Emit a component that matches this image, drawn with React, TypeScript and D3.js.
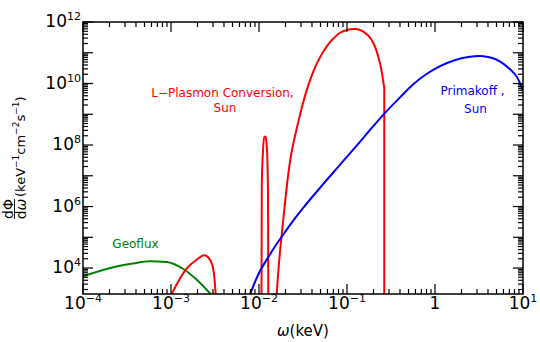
import React from 'react';
import * as d3 from 'd3';

// ---- data (energy in keV, flux in keV^-1 cm^-2 s^-1) ----
const geofluxEnergy = [1.0e-4, 2.4e-4, 3.7e-4, 5.75e-4, 8.9e-4, 1.38e-3, 1.95e-3, 2.9e-3];
const geofluxFlux = [5.4e3, 1.12e4, 1.4e4, 1.66e4, 1.58e4, 9.3e3, 4.2e3, 1.3e3];

const plasmonLowEnergy = [1.0e-3, 1.48e-3, 1.95e-3, 2.4e-3, 2.88e-3, 3.1e-3, 3.24e-3];
const plasmonLowFlux = [1.3e3, 9.0e3, 1.86e4, 2.6e4, 1.5e4, 5.4e3, 1.1e3];

const plasmonSpikeEnergy = [1.067e-2, 1.076e-2, 1.109e-2, 1.148e-2, 1.189e-2, 1.23e-2, 1.265e-2, 1.276e-2];
const plasmonSpikeFlux = [1.1e3, 5.0e6, 6.0e7, 1.8e8, 1.9e8, 8.0e7, 3.0e6, 1.1e3];

const plasmonHumpEnergy = [1.585e-2, 1.70e-2, 1.905e-2, 2.15e-2, 2.34e-2, 2.57e-2, 3.16e-2, 3.63e-2, 4.14e-2, 5.01e-2, 5.89e-2, 7.08e-2, 8.32e-2, 0.1, 0.12, 0.141, 0.174, 0.2, 0.237, 0.265];
const plasmonHumpFlux = [1.26e3, 1.86e4, 4.8e5, 1.12e7, 5.6e7, 2.0e8, 2.29e9, 8.7e9, 2.45e10, 7.76e10, 1.62e11, 3.0e11, 4.47e11, 5.5e11, 5.9e11, 5.5e11, 3.63e11, 2.04e11, 4.57e10, 7.08e9];

const primakoffEnergy = [7.94e-3, 1.0e-2, 1.26e-2, 1.58e-2, 2.0e-2, 2.51e-2, 3.16e-2, 5.01e-2, 7.94e-2, 0.126, 0.2, 0.282, 0.398, 0.562, 0.794, 1.0, 1.35, 2.0, 2.82, 3.55, 4.47, 5.5, 6.9, 8.5, 10];
const primakoffFlux = [1.41e3, 6.9e3, 2.14e4, 5.9e4, 1.55e5, 3.8e5, 8.9e5, 4.27e6, 1.95e7, 8.9e7, 4.17e8, 1.26e9, 3.47e9, 9.3e9, 2.0e10, 3.0e10, 4.57e10, 6.6e10, 7.76e10, 7.76e10, 6.76e10, 5.13e10, 3.16e10, 1.66e10, 5.6e9];

const xTickExponents = [-4, -3, -2, -1, 0, 1];
const yLabelExponents = [4, 6, 8, 10, 12];

// ---- layout ----
const W = 540, H = 342;
const L = 83, R = 523, T = 22, B = 294;
const x = d3.scaleLog().domain([1e-4, 10]).range([L, R]);
const y = d3.scaleLog().domain([1.43e3, 1e12]).range([B, T]);

const FONT = "'DejaVu Sans', sans-serif";

function zip(a: number[], b: number[]): [number, number][] {
  return a.map((v, i) => [v, b[i]]);
}
const lineMono = d3.line<[number, number]>()
  .x(d => x(d[0]))
  .y(d => y(d[1]))
  .curve(d3.curveMonotoneX);
const lineSmooth = d3.line<[number, number]>()
  .x(d => x(d[0]))
  .y(d => y(d[1]))
  .curve(d3.curveCatmullRom.alpha(0.5));

export default function App() {
  const xMinor: number[] = [];
  for (let n = -4; n <= 0; n++) for (let k = 2; k <= 9; k++) xMinor.push(k * Math.pow(10, n));
  const yMajor: number[] = [];
  for (let n = 4; n <= 12; n++) yMajor.push(Math.pow(10, n));
  const yMinor: number[] = [];
  for (let n = 3; n <= 11; n++) for (let k = 2; k <= 9; k++) {
    const v = k * Math.pow(10, n);
    if (v >= 1.43e3 && v <= 1e12) yMinor.push(v);
  }
  const MAJ = 10, MIN = 5;
  const humpLast = plasmonHumpEnergy[plasmonHumpEnergy.length - 1];
  const humpLastF = plasmonHumpFlux[plasmonHumpFlux.length - 1];

  return (
    <svg width={W} height={H} style={{ position: 'fixed', left: 0, top: 0, background: '#fff' }} fontFamily={FONT}>
      <defs>
        <clipPath id="plot"><rect x={L} y={T} width={R - L} height={B - T} /></clipPath>
      </defs>
      <g clipPath="url(#plot)" fill="none" strokeWidth={2} strokeLinejoin="round">
        <path d={lineMono(zip(geofluxEnergy, geofluxFlux)) || ''} stroke="#008000" />
        <path d={lineMono(zip(plasmonLowEnergy, plasmonLowFlux)) || ''} stroke="#ff0000" />
        <path d={lineMono(zip(plasmonSpikeEnergy, plasmonSpikeFlux)) || ''} stroke="#ff0000" />
        <path d={(lineSmooth(zip(plasmonHumpEnergy, plasmonHumpFlux)) || '') + `M${x(humpLast)},${y(humpLastF)}V${B + 2}`} stroke="#ff0000" />
        <path d={lineSmooth(zip(primakoffEnergy, primakoffFlux)) || ''} stroke="#0000ff" />
      </g>
      {/* frame */}
      <rect x={L} y={T} width={R - L} height={B - T} fill="none" stroke="#000" strokeWidth={1.5} />
      <g stroke="#000" strokeWidth={1.2}>
        {xTickExponents.map(e => {
          const px = x(Math.pow(10, e));
          return <g key={'xm' + e}>
            <line x1={px} x2={px} y1={B} y2={B - MAJ} />
            <line x1={px} x2={px} y1={T} y2={T + MAJ} />
          </g>;
        })}
        {xMinor.map((v, i) => {
          const px = x(v);
          return <g key={'xn' + i}>
            <line x1={px} x2={px} y1={B} y2={B - MIN} />
            <line x1={px} x2={px} y1={T} y2={T + MIN} />
          </g>;
        })}
        {yMajor.map((v, i) => {
          const py = y(v);
          return <g key={'ym' + i}>
            <line x1={L} x2={L + MAJ} y1={py} y2={py} />
            <line x1={R} x2={R - MAJ} y1={py} y2={py} />
          </g>;
        })}
        {yMinor.map((v, i) => {
          const py = y(v);
          return <g key={'yn' + i}>
            <line x1={L} x2={L + MIN} y1={py} y2={py} />
            <line x1={R} x2={R - MIN} y1={py} y2={py} />
          </g>;
        })}
      </g>
      {/* tick labels */}
      <g fontSize={17} fill="#000">
        {xTickExponents.map(e => {
          const px = x(Math.pow(10, e));
          if (e === 0) return <text key={'xl' + e} x={px} y={309} textAnchor="middle">1</text>;
          return <text key={'xl' + e} x={px} y={309} textAnchor="middle">10<tspan dy={-7} fontSize={11}>{e < 0 ? '\u2212' + Math.abs(e) : String(e)}</tspan></text>;
        })}
        {yLabelExponents.map(e => {
          const py = y(Math.pow(10, e));
          return <text key={'yl' + e} x={81} y={py + 5} textAnchor="end">10<tspan dy={-7} fontSize={11}>{String(e)}</tspan></text>;
        })}
      </g>
      {/* axis titles */}
      <text x={303} y={336} fontSize={15} textAnchor="middle" fill="#000"><tspan fontStyle="italic">ω</tspan>(keV)</text>
      <g transform="translate(26,0) rotate(-90)" fill="#000">
        <text x={-209} y={-13} fontSize={14} textAnchor="middle">dΦ</text>
        <line x1={-219} x2={-199} y1={-11.5} y2={-11.5} stroke="#000" strokeWidth={0.9} />
        <text x={-209} y={0} fontSize={14} textAnchor="middle">d<tspan fontStyle="italic">ω</tspan></text>
        <text x={-197} y={-1} fontSize={13}>(keV<tspan dy={-6} fontSize={9}>−1</tspan><tspan dy={6}>cm</tspan><tspan dy={-6} fontSize={9}>−2</tspan><tspan dy={6}>s</tspan><tspan dy={-6} fontSize={9}>−1</tspan><tspan dy={6}>)</tspan></text>
      </g>
      {/* series labels */}
      <g fontSize={12}>
        <text x={222.5} y={96.5} textAnchor="middle" fill="#ff0000">L−Plasmon Conversion,</text>
        <text x={225} y={112} textAnchor="middle" fill="#ff0000">Sun</text>
        <text x={472.5} y={95} textAnchor="middle" fill="#0000ff">Primakoff ,</text>
        <text x={475.5} y={113} textAnchor="middle" fill="#0000ff">Sun</text>
        <text x={135.5} y={248} textAnchor="middle" fill="#008000">Geoflux</text>
      </g>
    </svg>
  );
}
